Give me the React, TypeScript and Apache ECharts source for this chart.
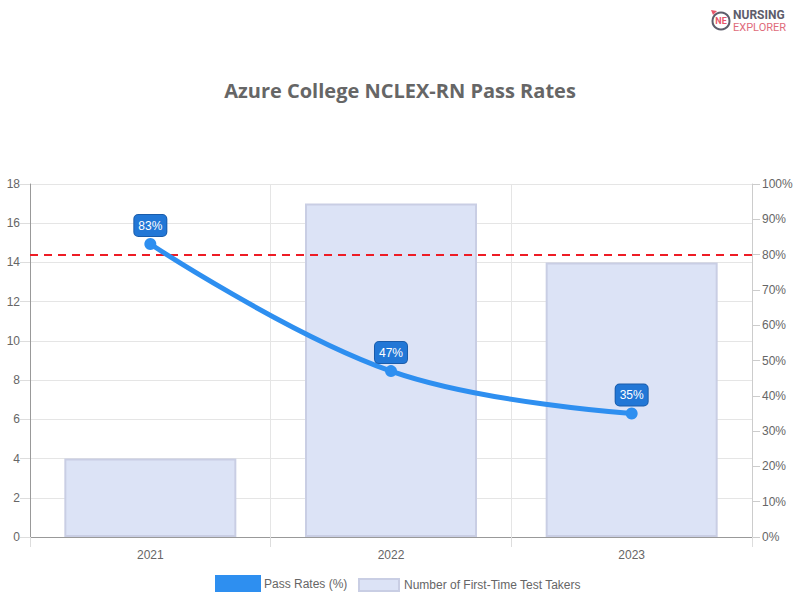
import React, { useEffect, useRef } from "react";
import * as echarts from "echarts";

const categories = ["2021", "2022", "2023"];
const passRates = [83, 47, 35];
const testTakers = [4, 17, 14];
const benchmark = 80;
const titleText = "Azure College NCLEX-RN Pass Rates";
const lineName = "Pass Rates (%)";
const barName = "Number of First-Time Test Takers";

export default function App() {
  const ref = useRef<HTMLDivElement>(null);
  useEffect(() => {
    document.body.style.margin = "0";
    const chart = echarts.init(ref.current!, null, { renderer: "svg" });
    const font = "Liberation Sans, Arial, sans-serif";
    chart.setOption({
      animation: false,
      backgroundColor: "#ffffff",
      textStyle: { fontFamily: font },
      title: {
        text: titleText,
        left: "center",
        top: 75,
        textStyle: { fontFamily: "Open Sans", fontWeight: "bold", fontSize: 20, color: "#666666" },
      },
      legend: [
        {
          data: [{ name: lineName, icon: "rect", itemStyle: { color: "#2e8ff0", borderWidth: 0 } }],
          left: 210,
          top: 570,
          itemWidth: 46,
          itemHeight: 17,
          itemGap: 4,
          textStyle: { color: "#666666", fontSize: 12, fontFamily: font, padding: [0, 0, 0, -2] },
        },
        {
          data: [{ name: barName, icon: "rect" }],
          left: 353,
          top: 573,
          itemWidth: 40,
          itemHeight: 12,
          textStyle: { color: "#666666", fontSize: 12, fontFamily: font },
        },
      ],
      grid: { left: 30, right: 48, top: 184, bottom: 63, containLabel: false },
      xAxis: {
        type: "category",
        data: categories,
        boundaryGap: true,
        axisLine: { lineStyle: { color: "#999999", width: 1 } },
        axisTick: { show: true, alignWithLabel: false, length: 10, lineStyle: { color: "#dddddd" } },
        splitLine: { show: true, lineStyle: { color: "#e5e5e5" } },
        axisLabel: { color: "#666666", fontSize: 12, margin: 12, fontFamily: font },
      },
      yAxis: [
        {
          type: "value",
          min: 0,
          max: 18,
          interval: 2,
          position: "left",
          axisLine: { show: true, lineStyle: { color: "#999999" } },
          axisTick: { show: true, length: 10, lineStyle: { color: "#dddddd" } },
          splitLine: { show: true, lineStyle: { color: "#e5e5e5" } },
          axisLabel: { color: "#666666", fontSize: 12, margin: 10, fontFamily: font },
        },
        {
          type: "value",
          min: 0,
          max: 100,
          interval: 10,
          position: "right",
          axisLine: { show: true, lineStyle: { color: "#cccccc" } },
          axisTick: { show: true, length: 8, lineStyle: { color: "#cccccc" } },
          splitLine: { show: false },
          axisLabel: { color: "#666666", fontSize: 12, margin: 10, formatter: "{value}%", fontFamily: font },
        },
      ],
      series: [
        {
          name: barName,
          type: "bar",
          yAxisIndex: 0,
          data: testTakers,
          barWidth: 172,
          itemStyle: { color: "#dce3f6", borderColor: "#c9cee4", borderWidth: 2 },
          z: 2,
        },
        {
          name: lineName,
          type: "line",
          yAxisIndex: 1,
          data: passRates,
          smooth: 0.4,
          symbol: "circle",
          symbolSize: 12,
          lineStyle: { color: "#2e8ff0", width: 5 },
          itemStyle: { color: "#2e8ff0" },
          z: 5,
          label: {
            show: true,
            position: "top",
            distance: 2,
            formatter: "{c}%",
            color: "#ffffff",
            fontSize: 12,
            fontFamily: font,
            backgroundColor: "#2277d6",
            borderColor: "#1a5caa",
            borderWidth: 1,
            borderRadius: 4,
            padding: [5, 4, 4, 4],
          },
          markLine: {
            silent: true,
            symbol: "none",
            label: { show: false },
            lineStyle: { color: "#ee1c25", type: [8, 6], width: 2 },
            data: [{ yAxis: benchmark }],
          },
        },
      ],
      graphic: [
        {
          type: "group",
          left: 711,
          top: 9,
          children: [
            { type: "circle", shape: { cx: 10, cy: 12, r: 8.5 }, style: { fill: "#ffffff", stroke: "#5d5d6b", lineWidth: 2 } },
            { type: "polygon", shape: { points: [[0, 1], [6, 2], [2, 6]] }, style: { fill: "#e8566a" } },
            { type: "text", x: 10, y: 12, style: { text: "NE", fill: "#e8566a", fontSize: 9, fontWeight: "bold", fontFamily: "Roboto", align: "center", verticalAlign: "middle" } },
            { type: "text", x: 22, y: 0, style: { text: "NURSING", fill: "#5d5d6b", fontSize: 12, lineHeight: 12, fontWeight: "bold", fontFamily: "Roboto", verticalAlign: "top" } },
            { type: "text", x: 22, y: 13, style: { text: "EXPLORER", fill: "#e06b7b", fontSize: 11, lineHeight: 11, fontFamily: "Roboto", verticalAlign: "top" } },
          ],
        },
      ],
    });
    return () => chart.dispose();
  }, []);
  return <div ref={ref} style={{ width: 800, height: 600 }} />;
}
